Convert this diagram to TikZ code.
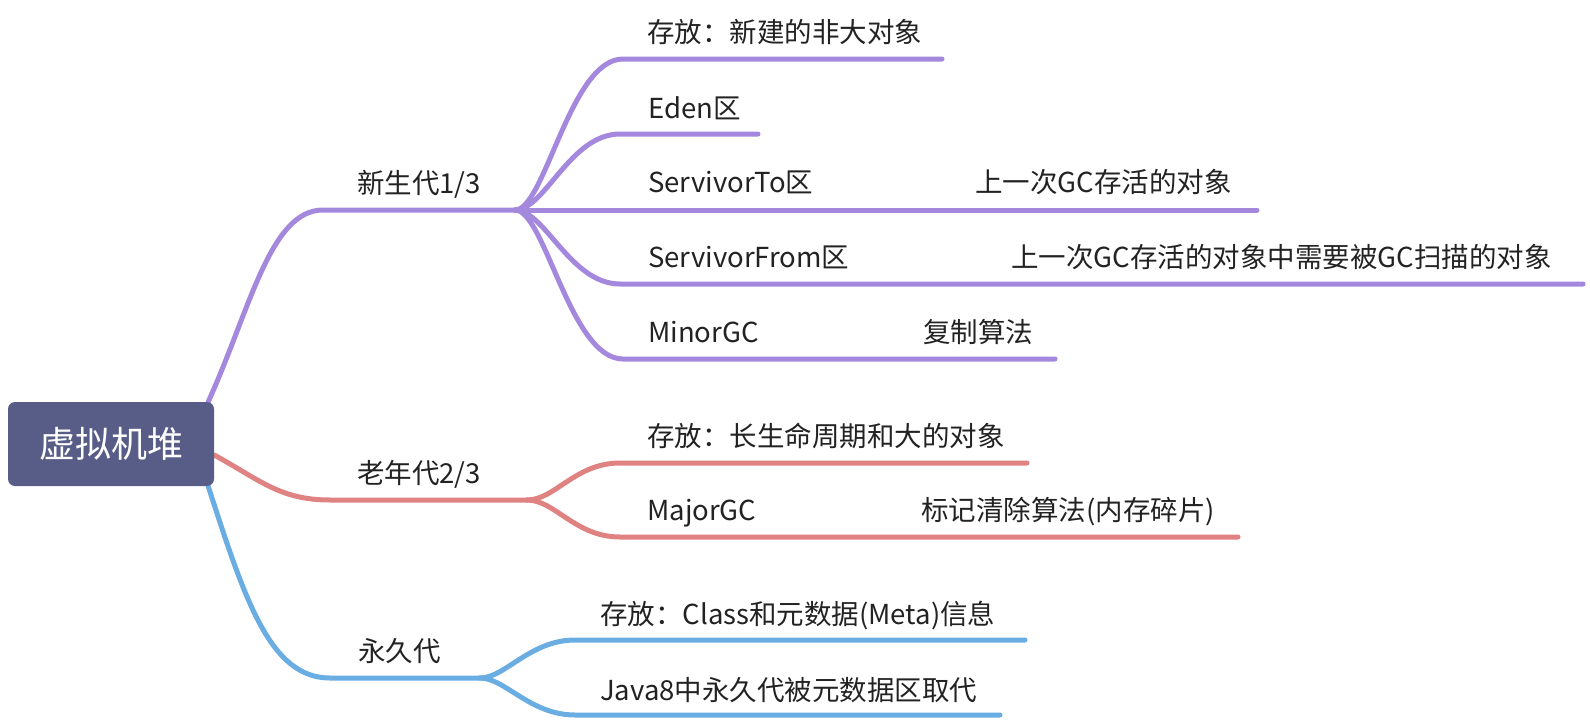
\documentclass[tikz,border=0pt]{standalone}
\usepackage{fontspec}
\newfontfamily\cjk{Noto Sans CJK SC}
\usetikzlibrary{backgrounds}
\definecolor{cpurple}{HTML}{A488DE}
\definecolor{cred}{HTML}{E08282}
\definecolor{cblue}{HTML}{69ADE2}
\definecolor{croot}{HTML}{575D86}
\definecolor{ctext}{HTML}{222222}
\begin{document}
\begin{tikzpicture}[x=1pt,y=-1pt,
  lbl/.style={anchor=base west, inner sep=0pt, font=\cjk\fontsize{27.5}{33}\selectfont, text=ctext},
  conn/.style={line width=5pt, line cap=round, line join=round},
  rootbox/.style={fill=croot, rounded corners=7pt, minimum width=206pt, minimum height=84pt, inner sep=0pt, text=white, font=\cjk\fontsize{36}{40}\selectfont}]
\useasboundingbox (0,0) rectangle (1590,720);

% root
\node[rootbox] (root) at (111,444) {虚拟机堆};

% level 1 labels
\node[lbl] (young) at (357,193.5) {新生代1/3};
\node[lbl] (old)   at (357,483.5) {老年代2/3};
\node[lbl] (perm)  at (358,661.5) {永久代};

% level 2 labels
\node[lbl] (y1) at (647,42.5)  {存放：新建的非大对象};
\node[lbl] (y2) at (648,118.5) {Eden区};
\node[lbl] (y3) at (648,192.5) {ServivorTo区};
\node[lbl] (y4) at (648,267.5) {ServivorFrom区};
\node[lbl] (y5) at (648,342.5) {MinorGC};
\node[lbl] (y3a) at (975,192.5) {上一次GC存活的对象};
\node[lbl] (y4a) at (1011,267.5) {上一次GC存活的对象中需要被GC扫描的对象};
\node[lbl] (y5a) at (923,342.5) {复制算法};

\node[lbl] (o1) at (647,446.5) {存放：长生命周期和大的对象};
\node[lbl] (o2) at (647,520.5) {MajorGC};
\node[lbl] (o2a) at (921,520.5) {标记清除算法(内存碎片)};

\node[lbl] (p1) at (600,624.5) {存放：Class和元数据(Meta)信息};
\node[lbl] (p2) at (600,700.5) {Java8中永久代被元数据区取代};

% junction / underline coordinates
\coordinate (g1a) at (323,210); \coordinate (J1) at (515,210);
\coordinate (g2a) at (330,500); \coordinate (J2) at (527,500);
\coordinate (g3a) at (330,678); \coordinate (J3) at (480,678);

\coordinate (a1) at (623,59);  \coordinate (a1e) at (942,59);
\coordinate (a2) at (620,134); \coordinate (a2e) at (758,134);
\coordinate (a3e) at (1257,210);
\coordinate (a4) at (620,284); \coordinate (a4e) at (1583,284);
\coordinate (a5) at (623,359); \coordinate (a5e) at (1055,359);

\coordinate (b1) at (620,463); \coordinate (b1e) at (1027,463);
\coordinate (b2) at (620,537); \coordinate (b2e) at (1238,537);

\coordinate (c1) at (575,640); \coordinate (c1e) at (1025,640);
\coordinate (c2) at (575,715); \coordinate (c2e) at (1000,715);

\begin{scope}[on background layer]
% purple branch
\draw[conn,cpurple] ([xshift=-6pt]root.north east) .. controls (250,310) and (270,210) .. (g1a) -- (J1);
\draw[conn,cpurple] (J1) .. controls (545,210) and (570,59) .. (a1) -- (a1e);
\draw[conn,cpurple] (J1) .. controls (545,210) and (570,134) .. (a2) -- (a2e);
\draw[conn,cpurple] (J1) -- (a3e);
\draw[conn,cpurple] (J1) .. controls (545,210) and (570,284) .. (a4) -- (a4e);
\draw[conn,cpurple] (J1) .. controls (545,210) and (570,359) .. (a5) -- (a5e);
% red branch
\draw[conn,cred] ([yshift=-11pt]root.east) .. controls (260,480) and (280,500) .. (g2a) -- (J2);
\draw[conn,cred] (J2) .. controls (555,500) and (575,463) .. (b1) -- (b1e);
\draw[conn,cred] (J2) .. controls (555,500) and (575,537) .. (b2) -- (b2e);
% blue branch
\draw[conn,cblue] ([xshift=-6pt]root.south east) .. controls (245,600) and (270,678) .. (g3a) -- (J3);
\draw[conn,cblue] (J3) .. controls (505,678) and (530,640) .. (c1) -- (c1e);
\draw[conn,cblue] (J3) .. controls (505,678) and (530,715) .. (c2) -- (c2e);
\end{scope}
\end{tikzpicture}
\end{document}
